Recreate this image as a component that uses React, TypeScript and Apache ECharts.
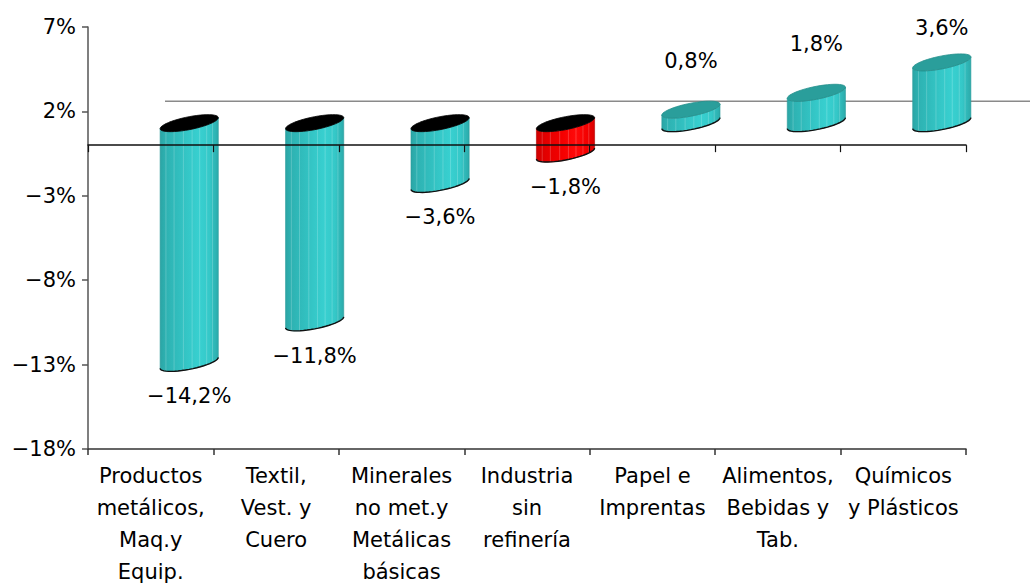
import React, { useEffect, useRef } from "react";
import * as echarts from "echarts";

const FONT = '"DejaVu Sans", Verdana, sans-serif';

const categories = [
  "Productos\nmetálicos,\nMaq.y\nEquip.",
  "Textil,\nVest. y\nCuero",
  "Minerales\nno met.y\nMetálicas\nbásicas",
  "Industria\nsin\nrefinería",
  "Papel e\nImprentas",
  "Alimentos,\nBebidas y\nTab.",
  "Químicos\ny Plásticos",
];
const values = [-14.2, -11.8, -3.6, -1.8, 0.8, 1.8, 3.6];
const highlighted = [false, false, false, true, false, false, false];
const yTickLabels = ["−18%", "−13%", "−8%", "−3%", "2%", "7%"];

const fmt = (v: number) =>
  (v < 0 ? "−" : "") + Math.abs(v).toFixed(1).replace(".", ",") + "%";

const tealStops = [
  { offset: 0, color: "#2ba5a5" },
  { offset: 0.1, color: "#2eb2b2" },
  { offset: 0.3, color: "#31bdbd" },
  { offset: 0.5, color: "#35c8c8" },
  { offset: 0.68, color: "#38d0d0" },
  { offset: 0.85, color: "#35c8c8" },
  { offset: 1, color: "#2caaaa" },
];
const redStops = [
  { offset: 0, color: "#d00000" },
  { offset: 0.15, color: "#e20000" },
  { offset: 0.45, color: "#f40000" },
  { offset: 0.68, color: "#ff0a0a" },
  { offset: 0.88, color: "#f20000" },
  { offset: 1, color: "#d80000" },
];

function renderItem(params: any, api: any) {
  const i = api.value(0);
  const v = api.value(1);
  const p0 = api.coord([i, 0]);
  const pv = api.coord([i, v]);
  const catW = api.size([1, 0])[0];
  const cs = params.coordSys;
  const DX = 77;
  const DY = -44;
  const cx = p0[0] + DX / 2;
  const a = catW * 0.232;
  const b = 6.5;
  const sh = 5.5;
  const yv = pv[1] + DY / 2;
  const y0 = p0[1] + DY / 2;
  const topC = Math.min(yv, y0);
  const botC = Math.max(yv, y0);

  const pt = (cy: number, t: number) => [
    cx + a * Math.cos(t),
    cy + b * Math.sin(t) - sh * Math.cos(t),
  ];
  const arc = (cy: number, from: number, to: number, n = 24) => {
    const res: number[][] = [];
    for (let k = 0; k <= n; k++) res.push(pt(cy, from + ((to - from) * k) / n));
    return res;
  };

  const body = [...arc(topC, Math.PI, 0), ...arc(botC, 0, Math.PI)];
  const cap = arc(topC, 0, Math.PI * 2, 48);
  const isRed = highlighted[i];
  const grad = new echarts.graphic.LinearGradient(0, 0, 1, 0, isRed ? redStops : tealStops);
  const capColor = v < 0 ? "#000000" : "#2a9e9b";

  const children: any[] = [];
  if (i === 0) {
    children.push({
      type: "line",
      shape: {
        x1: cs.x + DX,
        y1: p0[1] + DY,
        x2: api.getWidth(),
        y2: p0[1] + DY,
      },
      style: { stroke: "#8a8a8a", lineWidth: 1.5 },
    });
  }
  children.push({
    type: "polygon",
    shape: { points: body },
    style: { fill: grad, stroke: isRed ? "#b00000" : "#2a9a9a", lineWidth: 0.6 },
  });
  const stripes = [0.1, 0.24, 0.4, 0.55, 0.68, 0.8, 0.9];
  stripes.forEach((f) => {
    const c = 2 * f - 1;
    const s = Math.sqrt(1 - c * c);
    const xx = cx + a * c;
    const ty = topC + b * s - sh * c;
    const by = botC + b * s - sh * c;
    children.push({
      type: "line",
      shape: { x1: xx, y1: ty, x2: xx, y2: by },
      style: { stroke: "rgba(255,255,255,0.2)", lineWidth: 1 },
    });
  });
  children.push({
    type: "polyline",
    shape: { points: arc(botC, 0, Math.PI) },
    style: { stroke: "#111", lineWidth: 1.4, fill: null },
  });
  children.push({
    type: "polygon",
    shape: { points: cap },
    style: { fill: capColor, stroke: v < 0 ? "#000" : "#238f8c", lineWidth: 0.8 },
  });

  const ext = Math.sqrt(b * b + sh * sh);
  let ly: number;
  const lx = cx;
  if (v < 0) {
    ly = botC + ext + 25;
  } else {
    ly = Math.max(topC - ext - 40, cs.y + 1);
  }
  children.push({
    type: "text",
    style: {
      text: fmt(v),
      x: lx,
      y: ly,
      align: "center",
      verticalAlign: "middle",
      fontSize: 21,
      fontFamily: FONT,
      fill: "#000",
    },
  });

  return { type: "group", children };
}

export default function App() {
  const ref = useRef<HTMLDivElement>(null);
  useEffect(() => {
    if (!ref.current) return;
    const chart = echarts.init(ref.current, undefined, { renderer: "svg" });
    chart.setOption({
      animation: false,
      backgroundColor: "#ffffff",
      grid: { left: 88, right: 64, top: 27, bottom: 133 },
      xAxis: [
        {
          type: "category",
          data: categories,
          position: "bottom",
          axisLine: { onZero: false, lineStyle: { color: "#333", width: 1.5 } },
          axisTick: { show: true, length: 6, lineStyle: { color: "#333", width: 1.5 } },
          axisLabel: {
            interval: 0,
            fontSize: 21,
            lineHeight: 32,
            margin: 11,
            color: "#000",
            fontFamily: FONT,
          },
          splitLine: { show: false },
        },
        {
          type: "category",
          data: categories,
          position: "bottom",
          axisLine: { onZero: true, onZeroAxisIndex: 0, lineStyle: { color: "#111", width: 1.5 } },
          axisTick: { show: true, length: 7, lineStyle: { color: "#111", width: 1.2 } },
          axisLabel: { show: false },
          splitLine: { show: false },
          z: 10,
        },
      ],
      yAxis: [
        { type: "value", min: -18, max: 7, show: false },
        {
          type: "value",
          min: 0,
          max: 25,
          interval: 5,
          position: "left",
          axisLine: { show: true, lineStyle: { color: "#555", width: 1.5 } },
          axisTick: { show: true, length: 6, lineStyle: { color: "#555", width: 1.5 } },
          axisLabel: {
            formatter: (val: number) => yTickLabels[Math.round(val / 5)],
            fontSize: 21,
            margin: 12,
            color: "#000",
            fontFamily: FONT,
          },
          splitLine: { show: false },
        },
      ],
      series: [
        {
          type: "custom",
          xAxisIndex: 0,
          yAxisIndex: 0,
          renderItem,
          data: values.map((v, i) => [i, v]),
          encode: { x: 0, y: 1 },
          z: 2,
        },
      ],
    });
    return () => chart.dispose();
  }, []);
  return (
    <div
      ref={ref}
      style={{ position: "absolute", left: 0, top: 0, width: 1030, height: 588 }}
    />
  );
}
